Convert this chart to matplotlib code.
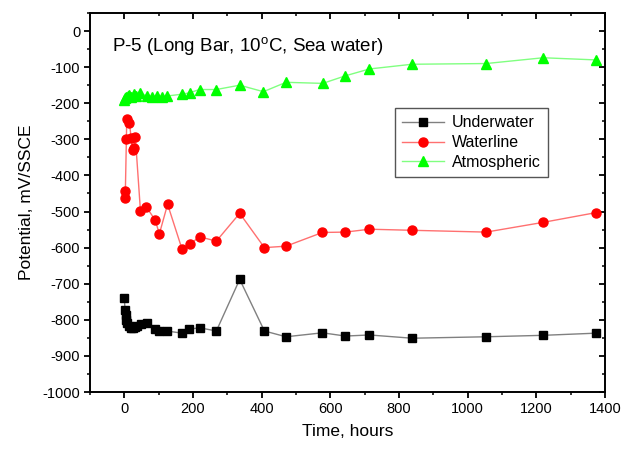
import matplotlib
matplotlib.use("Agg")
import matplotlib.pyplot as plt
from matplotlib.ticker import MultipleLocator

plt.rcParams['font.family'] = ['Liberation Sans', 'DejaVu Sans']
plt.rcParams['axes.unicode_minus'] = False

# Underwater
t_under = [0, 2, 4, 6, 9, 13, 18, 24, 30, 38, 48, 66, 90, 102, 124, 168, 189, 219, 268,
           336, 408, 471, 577, 644, 714, 838, 1054, 1220, 1374]
v_under = [-740, -772, -788, -800, -810, -818, -822, -822, -820, -817, -812, -808, -826,
           -831, -831, -837, -826, -822, -831, -688, -831, -847, -836, -845, -842, -851,
           -847, -843, -837]

# Waterline
t_water = [2, 3, 6, 7, 15, 20, 24, 28, 32, 47, 64, 90, 102, 126, 168, 190, 219, 268,
           336, 408, 471, 577, 644, 714, 838, 1054, 1220, 1374]
v_water = [-462, -443, -299, -244, -256, -297, -330, -325, -293, -499, -487, -524, -562,
           -480, -604, -591, -570, -582, -505, -600, -596, -558, -557, -549, -552, -557,
           -530, -503]

# Atmospheric
t_atm = [0, 3, 6, 10, 15, 20, 27, 35, 47, 66, 80, 95, 110, 124, 168, 190, 219, 268,
         336, 405, 471, 578, 644, 714, 838, 1054, 1220, 1374]
v_atm = [-190, -186, -183, -180, -178, -183, -175, -180, -173, -180, -183, -179, -183,
         -180, -175, -171, -162, -162, -150, -168, -142, -145, -124, -105, -92, -90,
         -74, -80]

fig = plt.figure(figsize=(6.29, 4.49), dpi=100)
ax = fig.add_axes([90/629, 1-392/449, 515/629, 379/449])

ax.plot(t_under, v_under, color='#808080', lw=1.0, marker='s', ms=5.5,
        mfc='black', mec='black', label='Underwater')
ax.plot(t_water, v_water, color='#ff7070', lw=1.0, marker='o', ms=6.5,
        mfc='#ff0000', mec='#ff0000', label='Waterline')
ax.plot(t_atm, v_atm, color='#80ff80', lw=1.0, marker='^', ms=7,
        mfc='#00ff00', mec='#00ff00', label='Atmospheric')

ax.set_xlim(-100, 1400)
ax.set_ylim(-1000, 50)
ax.xaxis.set_major_locator(MultipleLocator(200))
ax.xaxis.set_minor_locator(MultipleLocator(100))
ax.yaxis.set_major_locator(MultipleLocator(100))
ax.yaxis.set_minor_locator(MultipleLocator(50))

for s in ax.spines.values():
    s.set_linewidth(1.4)

ax.tick_params(axis='both', which='major', direction='out', length=4, width=1.3,
               labelsize=10.5, pad=3)
ax.tick_params(axis='both', which='minor', direction='out', length=2.5, width=1.1)
ax.tick_params(axis='x', which='both', top=True)
ax.tick_params(axis='y', which='both', right=True)
# top/right ticks inward
for t in ax.xaxis.get_major_ticks() + ax.xaxis.get_minor_ticks():
    t.tick2line.set_marker(matplotlib.lines.TICKDOWN)
for t in ax.yaxis.get_major_ticks() + ax.yaxis.get_minor_ticks():
    t.tick2line.set_marker(matplotlib.lines.TICKLEFT)

ax.set_xlabel('Time, hours', fontsize=12.5, labelpad=6)
ax.set_ylabel('Potential, mV/SSCE', fontsize=12.5, labelpad=6)

ax.text(0.043, 0.91, 'P-5 (Long Bar, 10$^\\mathregular{o}$C, Sea water)', transform=ax.transAxes,
        fontsize=13.5, va='center', ha='left')

leg = ax.legend(loc='upper left', bbox_to_anchor=(0.577, 0.770), fontsize=11.5,
                frameon=True, fancybox=False, edgecolor='#555555', framealpha=1,
                handlelength=2.6, borderpad=0.45, labelspacing=0.3, handletextpad=0.5)
leg.get_frame().set_linewidth(1.0)

fig.savefig('out.png', dpi=100)
